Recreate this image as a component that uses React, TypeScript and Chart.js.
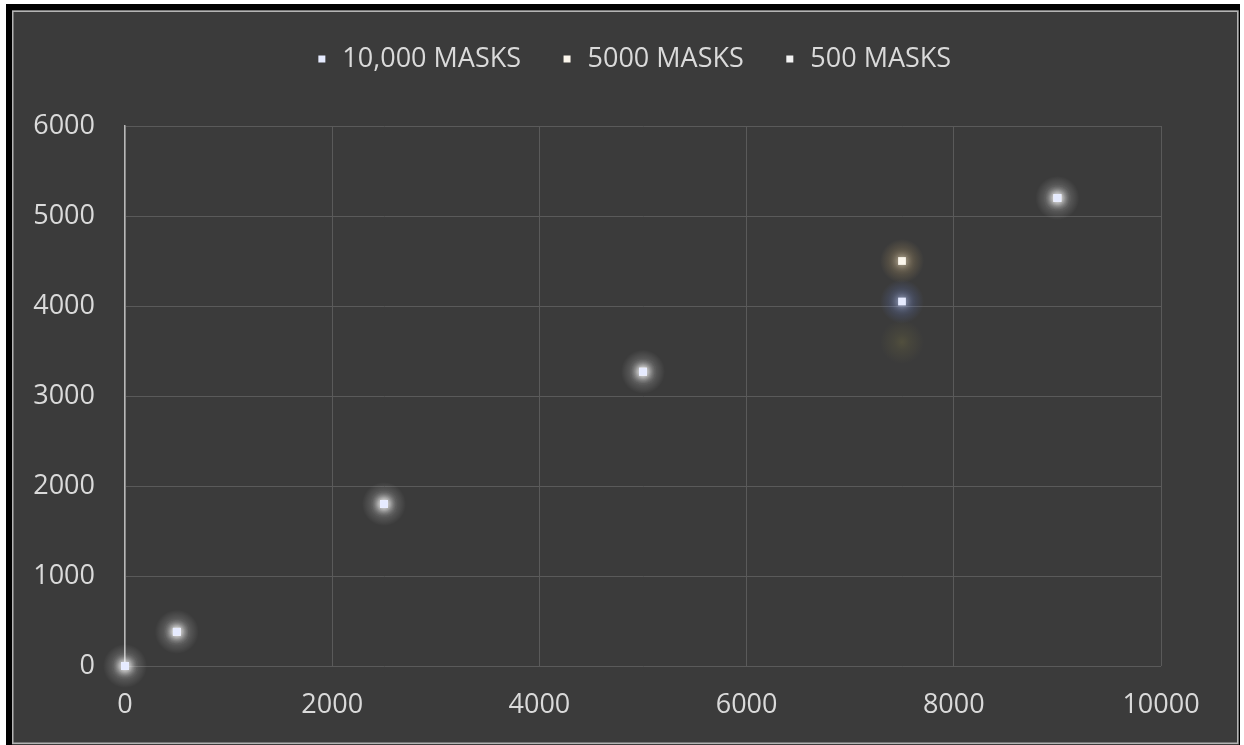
import { useEffect, useRef } from 'react';
import { Chart, registerables } from 'chart.js';

Chart.register(...registerables);

// Detected sample sizes (x) versus counted detections (y) for each mask set
const maskCounts = [0, 500, 2500, 5000, 7500, 9000];
const masks10000 = [0, 380, 1800, 3270, 4050, 5200];
const masks5000 = [0, 380, 1800, 3270, 4500, 5200];
const masks500 = [0, 380, 1800, 3270, 3600, 5200];
const seriesLabels = ['10,000 MASKS', '5000 MASKS', '500 MASKS'];

const xMin = 0;
const xMax = 10000;
const xStep = 2000;
const yMin = 0;
const yMax = 6000;
const yStep = 1000;

const FONT = "'Open Sans', 'DejaVu Sans', sans-serif";
const TEXT = '#dadada';

const toPoints = (ys: number[]) => ys.map((y, i) => ({ x: maskCounts[i], y }));

// Halo tint per series (r,g,b) and its strength
const haloTints = [
  [110, 140, 235, 0.45],
  [235, 195, 120, 0.42],
  [160, 150, 70, 0.22],
];

const framePlugin = {
  id: 'frame',
  beforeDraw(chart: Chart) {
    const { ctx, width, height } = chart;
    ctx.save();
    ctx.fillStyle = '#ffffff';
    ctx.fillRect(0, 0, width, height);
    ctx.fillStyle = '#000000';
    ctx.fillRect(6, 4, 1234, height - 4);
    ctx.fillStyle = '#3b3b3b';
    ctx.fillRect(12, 10, 1227, height - 10);
    ctx.strokeStyle = '#b4b4b4';
    ctx.lineWidth = 1.5;
    ctx.strokeRect(12.75, 11.25, 1225, height - 13);
    ctx.restore();
  },
};

// Soft light around each marker; shared positions get a neutral white halo
const haloPlugin = {
  id: 'halo',
  beforeDatasetsDraw(chart: Chart) {
    const ctx = chart.ctx;
    const spots = new Map<string, { x: number; y: number; sets: number[] }>();
    chart.data.datasets.forEach((_, di) => {
      const meta = chart.getDatasetMeta(di);
      meta.data.forEach((el: any) => {
        const key = Math.round(el.x) + ',' + Math.round(el.y);
        const s = spots.get(key);
        if (s) s.sets.push(di);
        else spots.set(key, { x: el.x, y: el.y, sets: [di] });
      });
    });
    ctx.save();
    spots.forEach((s) => {
      let r = 255, g = 255, b = 255, a = 0.42;
      if (s.sets.length === 1) {
        [r, g, b, a] = haloTints[s.sets[0]];
      }
      const grad = ctx.createRadialGradient(s.x, s.y, 0, s.x, s.y, 22);
      grad.addColorStop(0, `rgba(${r},${g},${b},${a})`);
      grad.addColorStop(0.35, `rgba(${r},${g},${b},${a * 0.55})`);
      grad.addColorStop(1, `rgba(${r},${g},${b},0)`);
      ctx.fillStyle = grad;
      ctx.beginPath();
      ctx.arc(s.x, s.y, 22, 0, Math.PI * 2);
      ctx.fill();
    });
    ctx.restore();
  },
  beforeDatasetDraw(chart: Chart) {
    const ctx = chart.ctx;
    ctx.save();
    ctx.shadowColor = 'rgba(255,255,255,0.8)';
    ctx.shadowBlur = 8;
  },
  afterDatasetDraw(chart: Chart) {
    chart.ctx.restore();
  },
};

export default function App() {
  const canvasRef = useRef<HTMLCanvasElement | null>(null);

  useEffect(() => {
    const canvas = canvasRef.current;
    if (!canvas) return;
    const pointBase = {
      pointStyle: 'rect' as const,
      pointRadius: 5.5,
      pointHoverRadius: 5.5,
      pointBorderWidth: 0,
      showLine: false,
      clip: false as const,
    };
    const chart = new Chart(canvas, {
      type: 'scatter',
      data: {
        datasets: [
          {
            ...pointBase,
            label: seriesLabels[0],
            data: toPoints(masks10000),
            backgroundColor: '#e6ebff',
            borderColor: '#e6ebff',
          },
          {
            ...pointBase,
            label: seriesLabels[1],
            data: toPoints(masks5000),
            backgroundColor: '#fbf6ec',
            borderColor: '#fbf6ec',
          },
          {
            ...pointBase,
            label: seriesLabels[2],
            data: toPoints(masks500),
            backgroundColor: '#f2f2f2',
            borderColor: '#f2f2f2',
            pointBackgroundColor: (c: any) =>
              c.dataIndex === 4 ? 'rgba(150,140,80,0)' : '#f2f2f2',
          },
        ],
      },
      options: {
        animation: false,
        responsive: false,
        maintainAspectRatio: false,
        events: [],
        layout: { padding: { top: 6.5, left: 30, right: 8, bottom: 0 } },
        plugins: {
          tooltip: { enabled: false },
          legend: {
            position: 'top',
            align: 'center',
            labels: {
              usePointStyle: true,
              pointStyle: 'rect',
              boxWidth: 14,
              boxHeight: 7,
              padding: 39,
              color: TEXT,
              font: { family: FONT, size: 27 },
            },
          },
        },
        scales: {
          x: {
            type: 'linear',
            position: 'bottom',
            min: xMin,
            max: xMax,
            ticks: {
              stepSize: xStep,
              color: TEXT,
              padding: 23,
              font: { family: FONT, size: 27 },
              callback: (v: any) => String(v),
            },
            grid: { color: '#5a5a5a', lineWidth: 1, drawTicks: false },
            border: { display: false },
            afterFit: (s: any) => {
              s.height = 79;
            },
          },
          top: {
            type: 'linear',
            position: 'top',
            display: true,
            ticks: { display: false },
            grid: { display: false },
            border: { display: false },
            afterFit: (s: any) => {
              s.height = 43.5;
            },
          },
          right: {
            type: 'linear',
            position: 'right',
            display: true,
            ticks: { display: false },
            grid: { display: false },
            border: { display: false },
            afterFit: (s: any) => {
              s.width = 75;
            },
          },
          y: {
            type: 'linear',
            position: 'left',
            min: yMin,
            max: yMax,
            ticks: {
              stepSize: yStep,
              color: TEXT,
              padding: 30,
              font: { family: FONT, size: 27 },
              callback: (v: any) => String(v),
            },
            grid: { color: '#5a5a5a', lineWidth: 1, drawTicks: false },
            border: { display: true, color: '#b8b8b8', width: 1.5 },
            afterFit: (s: any) => {
              s.width = 95;
            },
          },
        },
      },
      plugins: [framePlugin, haloPlugin],
    });
    return () => chart.destroy();
  }, []);

  return (
    <div style={{ position: 'fixed', left: 0, top: 0, width: 1244, height: 745 }}>
      <canvas ref={canvasRef} width={1244} height={745} style={{ display: 'block' }} />
    </div>
  );
}
